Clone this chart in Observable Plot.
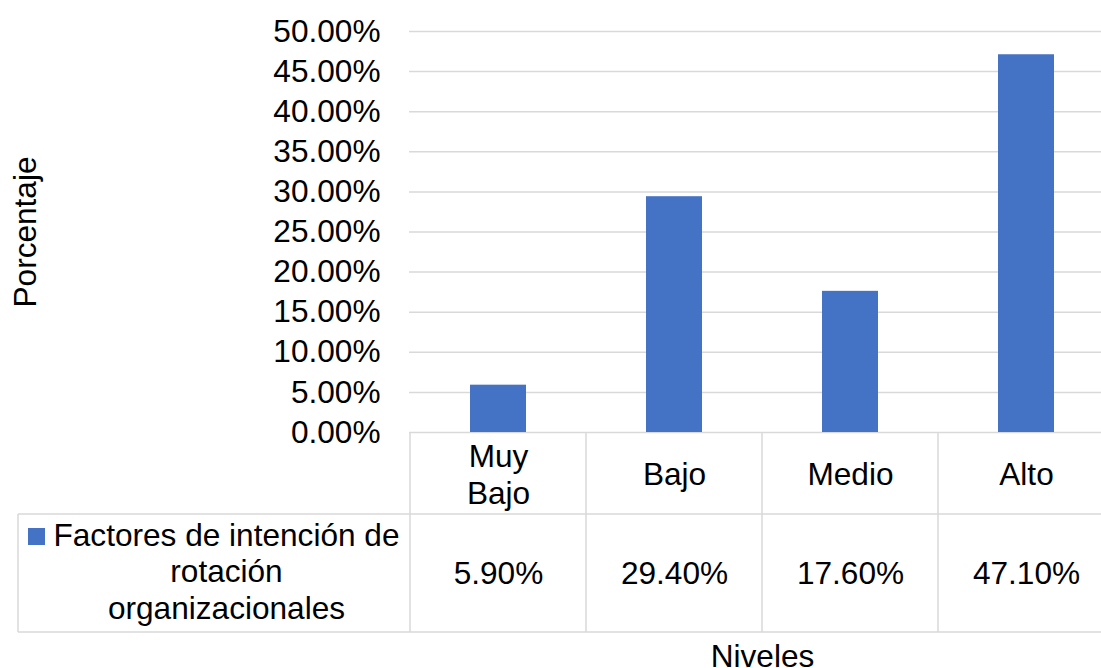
<!DOCTYPE html>
<html>
<head>
<meta charset="utf-8">
<script src="https://cdn.jsdelivr.net/npm/d3@7"></script>
<script src="https://cdn.jsdelivr.net/npm/@observablehq/plot@0.6"></script>
<style>
  html, body { margin: 0; padding: 0; background: #fff; overflow: hidden; }
  #chart { position: relative; width: 1101px; height: 668px; overflow: hidden; }
  #chart svg { max-width: none !important; width: 1116px; height: 668px; }
</style>
</head>
<body>
<div id="chart"></div>
<script>
// Categories, values and labels
const niveles = ["Muy Bajo", "Bajo", "Medio", "Alto"];
const etiquetas = ["Muy\nBajo", "Bajo", "Medio", "Alto"];
const porcentajes = [0.059, 0.294, 0.176, 0.471];
const yTicks = [0, 0.05, 0.10, 0.15, 0.20, 0.25, 0.30, 0.35, 0.40, 0.45, 0.50];
const serieLineas = ["Factores de intención de", "rotación", "organizacionales"];
const tituloY = "Porcentaje";
const tituloX = "Niveles";

const data = niveles.map((n, i) => ({nivel: n, etiqueta: etiquetas[i], valor: porcentajes[i]}));
const fmt = d3.format(".2%");
const azul = "#4472c4";
const gris = "#d9d9d9";
const fuente = "'Liberation Sans', Arial, Helvetica, sans-serif";
const tam = 31.6;

const chart = Plot.plot({
  width: 1116,
  height: 668,
  marginLeft: 409,
  marginRight: 1,
  marginTop: 31,
  marginBottom: 236,
  style: {fontFamily: fuente, fontSize: `${tam}px`, color: "#000", background: "#fff", maxWidth: "none"},
  x: {type: "band", domain: niveles, padding: 0},
  y: {domain: [0, 0.5]},
  marks: [
    Plot.gridY(yTicks, {stroke: gris, strokeOpacity: 1, strokeWidth: 1.5}),
    Plot.axisY(yTicks, {tickSize: 0, tickPadding: 29, tickFormat: fmt, label: null, fontSize: tam}),
    Plot.barY(data, {x: "nivel", y: "valor", fill: azul, insetLeft: 60, insetRight: 60}),
    // header row of the data table: category names
    Plot.axisX({
      tickSize: 0, tickPadding: 41, label: null, fontSize: tam,
      lineAnchor: "middle", lineHeight: 1.16,
      tickFormat: (d) => etiquetas[niveles.indexOf(d)]
    }),
    // value row of the data table
    Plot.text(data, {x: "nivel", text: (d) => fmt(d.valor), frameAnchor: "bottom", dy: 141, lineAnchor: "middle", fontSize: tam}),
    // axis titles
    Plot.text([tituloX], {frameAnchor: "bottom", dy: 224, lineAnchor: "middle", textAnchor: "middle", fontSize: tam}),
    Plot.text([tituloY], {frameAnchor: "left", rotate: -90, dx: -384, lineAnchor: "middle", textAnchor: "middle", fontSize: tam})
  ]
});

document.getElementById("chart").appendChild(chart);

// Data table grid and legend key, positioned from the chart's scales
const xs = chart.scale("x");
const ys = chart.scale("y");
const y0 = ys.apply(0);
const headerH = 82;
const valueH = 118;
const legendLeft = 18;
const bounds = niveles.map((n) => xs.apply(n));
bounds.push(xs.apply(niveles[niveles.length - 1]) + xs.bandwidth);
const right = bounds[bounds.length - 1];

const svg = d3.select(chart);
const tabla = svg.append("g").attr("stroke", gris).attr("stroke-width", 1.5);
bounds.forEach((bx) => {
  tabla.append("line").attr("x1", bx).attr("x2", bx).attr("y1", y0).attr("y2", y0 + headerH + valueH);
});
tabla.append("line").attr("x1", legendLeft).attr("x2", legendLeft).attr("y1", y0 + headerH).attr("y2", y0 + headerH + valueH);
[y0 + headerH, y0 + headerH + valueH].forEach((hy) => {
  tabla.append("line").attr("x1", legendLeft).attr("x2", right).attr("y1", hy).attr("y2", hy);
});

const leyenda = svg.append("g").attr("font-family", fuente).attr("font-size", tam).attr("fill", "#000");
leyenda.append("rect")
  .attr("x", legendLeft + 10).attr("y", y0 + headerH + 14)
  .attr("width", 17).attr("height", 17).attr("fill", azul);
serieLineas.forEach((t, i) => {
  leyenda.append("text")
    .attr("x", 226.5)
    .attr("y", y0 + headerH + 31.5 + i * 36.7)
    .attr("text-anchor", "middle")
    .text(t);
});
</script>
</body>
</html>
